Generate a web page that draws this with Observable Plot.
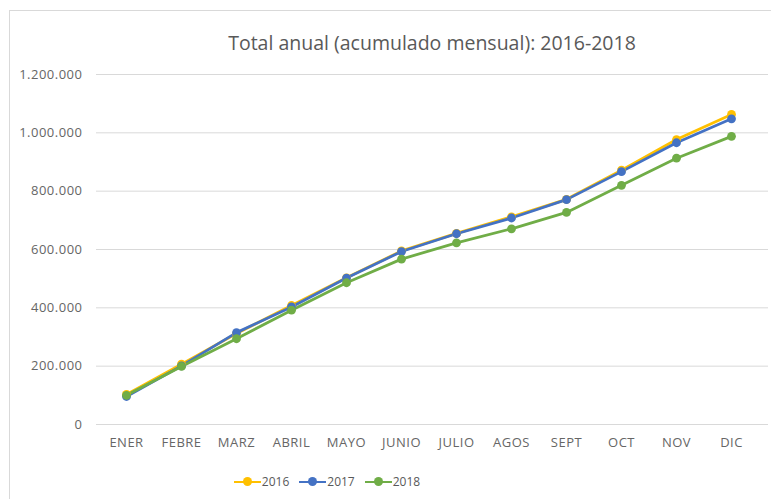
<!DOCTYPE html>
<html>
<head>
<meta charset="utf-8">
<script src="https://cdn.jsdelivr.net/npm/d3@7"></script>
<script src="https://cdn.jsdelivr.net/npm/@observablehq/plot@0.6"></script>
<style>
  html, body { margin: 0; padding: 0; background: #fff; }
  #page { position: relative; width: 771px; height: 499px; overflow: hidden; font-family: "Open Sans", "Noto Sans", sans-serif; }
  #frame { position: absolute; left: 9px; top: 10px; width: 820px; height: 540px; border: 1px solid #d9d9d9; box-sizing: border-box; }
  #title { position: absolute; left: 96px; width: 672px; top: 29px; text-align: center; font-size: 19.5px; color: #595959; }
  #chart { position: absolute; left: 0; top: 60px; }
  #legend { position: absolute; left: 0; width: 654px; top: 473px; display: flex; justify-content: center; font-size: 12px; color: #595959; }
  .item { display: flex; align-items: center; margin: 0 5px; }
  .sw { position: relative; width: 27px; height: 12px; margin-right: 1px; }
  .sw .ln { position: absolute; left: 0; right: 0; top: 5px; height: 2.5px; }
  .sw .dt { position: absolute; left: 9px; top: 1.5px; width: 9px; height: 9px; border-radius: 50%; }
  #chart text { letter-spacing: 0.5px; }
</style>
</head>
<body>
<div id="page">
  <div id="frame"></div>
  <div id="title">Total anual (acumulado mensual): 2016-2018</div>
  <div id="chart"></div>
  <div id="legend"></div>
</div>
<script>
const months = ["ENER","FEBRE","MARZ","ABRIL","MAYO","JUNIO","JULIO","AGOS","SEPT","OCT","NOV","DIC"];
const years = ["2016", "2017", "2018"];
const v2016 = [103000, 207000, 312000, 408000, 503000, 595000, 655000, 712000, 772000, 872000, 977000, 1063000];
const v2017 = [96000, 201000, 315000, 403000, 502000, 593000, 654000, 708000, 771000, 867000, 966000, 1048000];
const v2018 = [100000, 199000, 294000, 392000, 486000, 567000, 623000, 671000, 727000, 820000, 913000, 988000];
const yTicks = [0, 200000, 400000, 600000, 800000, 1000000, 1200000];
const colors = ["#FFC000", "#4472C4", "#70AD47"];

const series = [v2016, v2017, v2018];
const data = [];
series.forEach((vals, i) => vals.forEach((v, j) => data.push({year: years[i], month: months[j], value: v})));

const fmt = d3.formatLocale({decimal: ",", thousands: ".", grouping: [3], currency: ["", ""]}).format(",");

const chart = Plot.plot({
  width: 771,
  height: 390,
  marginTop: 14,
  marginBottom: 26,
  marginLeft: 96,
  marginRight: 3,
  style: {fontFamily: "'Open Sans', 'Noto Sans', sans-serif", fontSize: "13px", color: "#595959", background: "transparent"},
  x: {type: "point", domain: months, padding: 0, insetLeft: 28, insetRight: 36, label: null},
  y: {domain: [0, 1200000], label: null},
  color: {domain: years, range: colors},
  marks: [
    Plot.gridY(yTicks, {stroke: "#d9d9d9", strokeOpacity: 1, strokeWidth: 1}),
    Plot.axisY(yTicks, {tickSize: 0, tickPadding: 14, tickFormat: fmt, fill: "#666666"}),
    Plot.axisX(months, {tickSize: 0, tickPadding: 13, fill: "#666666"}),
    Plot.line(data, {x: "month", y: "value", z: "year", stroke: "year", strokeWidth: 2.8, curve: "linear"}),
    Plot.dot(data, {x: "month", y: "value", fill: "year", r: 4.4})
  ]
});
document.getElementById("chart").appendChild(chart);

const legend = document.getElementById("legend");
years.forEach((y, i) => {
  const it = document.createElement("div");
  it.className = "item";
  it.innerHTML = `<div class="sw"><div class="ln" style="background:${colors[i]}"></div><div class="dt" style="background:${colors[i]}"></div></div><span>${y}</span>`;
  legend.appendChild(it);
});
</script>
</body>
</html>
